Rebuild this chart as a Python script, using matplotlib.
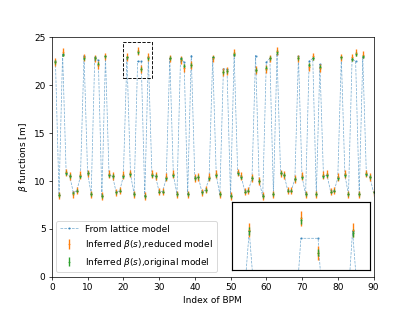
#!/usr/bin/env python3
import matplotlib
matplotlib.use('Agg')
import matplotlib.pyplot as plt
from matplotlib.patches import Rectangle
import numpy as np

# BPM indices and beta functions.
bpm_index = list(range(1, 91))

beta_lattice = [
    22.5, 8.55, 23.3, 10.8, 10.5, 8.8, 9.0, 10.5, 23.1, 10.8,
    8.65, 22.9, 22.6, 8.4, 23.0, 10.6, 10.5, 8.8, 9.0, 10.5,
    22.9, 10.7, 8.65, 22.5, 22.5, 8.4, 22.9, 10.6, 10.5, 8.9,
    8.9, 10.3, 22.8, 10.6, 8.65, 22.8, 22.4, 8.6, 23.1, 10.3,
    10.4, 8.8, 9.1, 10.3, 22.9, 10.6, 8.6, 21.7, 21.7, 8.4,
    23.2, 10.8, 10.45, 8.9, 9.0, 10.3, 23.1, 10.0, 8.4, 22.4,
    22.8, 8.6, 23.3, 10.8, 10.6, 9.0, 9.0, 10.2, 23.0, 10.45,
    8.6, 22.5, 22.8, 8.6, 22.2, 10.5, 10.6, 8.9, 9.0, 10.3,
    22.9, 10.6, 8.6, 22.7, 22.5, 8.6, 22.9, 10.7, 10.4, 8.8,
]

beta_reduced = [
    22.4, 8.5, 23.5, 10.9, 10.5, 8.6, 9.0, 10.6, 22.9, 10.8,
    8.6, 22.8, 22.1, 8.4, 23.0, 10.7, 10.5, 8.8, 9.0, 10.6,
    22.95, 10.8, 8.6, 23.6, 21.7, 8.4, 22.95, 10.7, 10.5, 8.9,
    8.9, 10.4, 22.8, 10.7, 8.6, 22.6, 21.8, 8.6, 22.1, 10.3,
    10.4, 8.8, 9.1, 10.4, 22.8, 10.7, 8.6, 21.4, 21.5, 8.4,
    23.4, 10.9, 10.5, 8.9, 9.0, 10.3, 21.6, 10.0, 8.4, 21.7,
    22.8, 8.6, 23.6, 10.8, 10.6, 9.0, 9.0, 10.2, 22.8, 10.5,
    8.6, 21.9, 23.0, 8.6, 21.8, 10.6, 10.7, 8.9, 9.0, 10.4,
    22.9, 10.7, 8.6, 22.9, 23.4, 8.6, 23.2, 10.8, 10.4, 8.8,
]

beta_original = [
    22.4, 8.55, 23.2, 10.8, 10.5, 8.7, 9.0, 10.5, 22.8, 10.8,
    8.65, 22.8, 22.2, 8.4, 23.0, 10.6, 10.5, 8.8, 9.0, 10.5,
    22.9, 10.7, 8.65, 23.5, 21.7, 8.4, 22.8, 10.6, 10.5, 8.9,
    8.9, 10.3, 22.8, 10.6, 8.65, 22.7, 22.0, 8.6, 22.1, 10.3,
    10.4, 8.8, 9.1, 10.3, 22.9, 10.6, 8.6, 21.4, 21.5, 8.4,
    23.3, 10.8, 10.45, 8.9, 9.0, 10.3, 21.6, 10.0, 8.4, 21.8,
    22.8, 8.6, 23.5, 10.8, 10.6, 9.0, 9.0, 10.2, 22.8, 10.45,
    8.6, 22.1, 22.8, 8.6, 21.9, 10.5, 10.6, 8.9, 9.0, 10.3,
    22.9, 10.6, 8.6, 22.7, 23.3, 8.6, 23.0, 10.7, 10.4, 8.8,
]

reduced_err = 0.4
original_err = 0.2


def draw(ax, with_labels=True):
    ax.plot(bpm_index, beta_lattice, ls='--', lw=0.8, marker='.', ms=3,
            color='C0', alpha=0.6,
            label='From lattice model' if with_labels else None)
    ax.errorbar(bpm_index, beta_reduced, yerr=reduced_err, fmt='.', ms=2,
                elinewidth=1.5, color='C1',
                label=r'Inferred $\beta(s)$,reduced model' if with_labels else None)
    ax.errorbar(bpm_index, beta_original, yerr=original_err, fmt='.', ms=2,
                elinewidth=1.5, color='C2',
                label=r'Inferred $\beta(s)$,original model' if with_labels else None)


fig = plt.figure(figsize=(415 / 65, 311 / 65), dpi=65)
ax = fig.add_subplot(111)
draw(ax)

ax.set_xlim(0, 90)
ax.set_ylim(0, 25)
ax.set_xticks(np.arange(0, 91, 10))
ax.set_xlabel('Index of BPM')
ax.set_ylabel(r'$\beta$ functions [m]')
ax.legend(loc='lower left')

# Zoomed region
zoom_x = (20, 28)
zoom_y = (20.75, 24.5)
ax.add_patch(Rectangle((zoom_x[0], zoom_y[0]), zoom_x[1] - zoom_x[0], zoom_y[1] - zoom_y[0],
                       fill=False, ls='--', ec='black', lw=1, zorder=5))

axins = fig.add_axes([0.559, 0.132, 0.332, 0.218])
draw(axins, with_labels=False)
axins.set_xlim(*zoom_x)
axins.set_ylim(*zoom_y)
axins.set_xticks([])
axins.set_yticks([])
for s in axins.spines.values():
    s.set_linewidth(1.3)
    s.set_color('black')

fig.savefig('out.png', dpi=65)
